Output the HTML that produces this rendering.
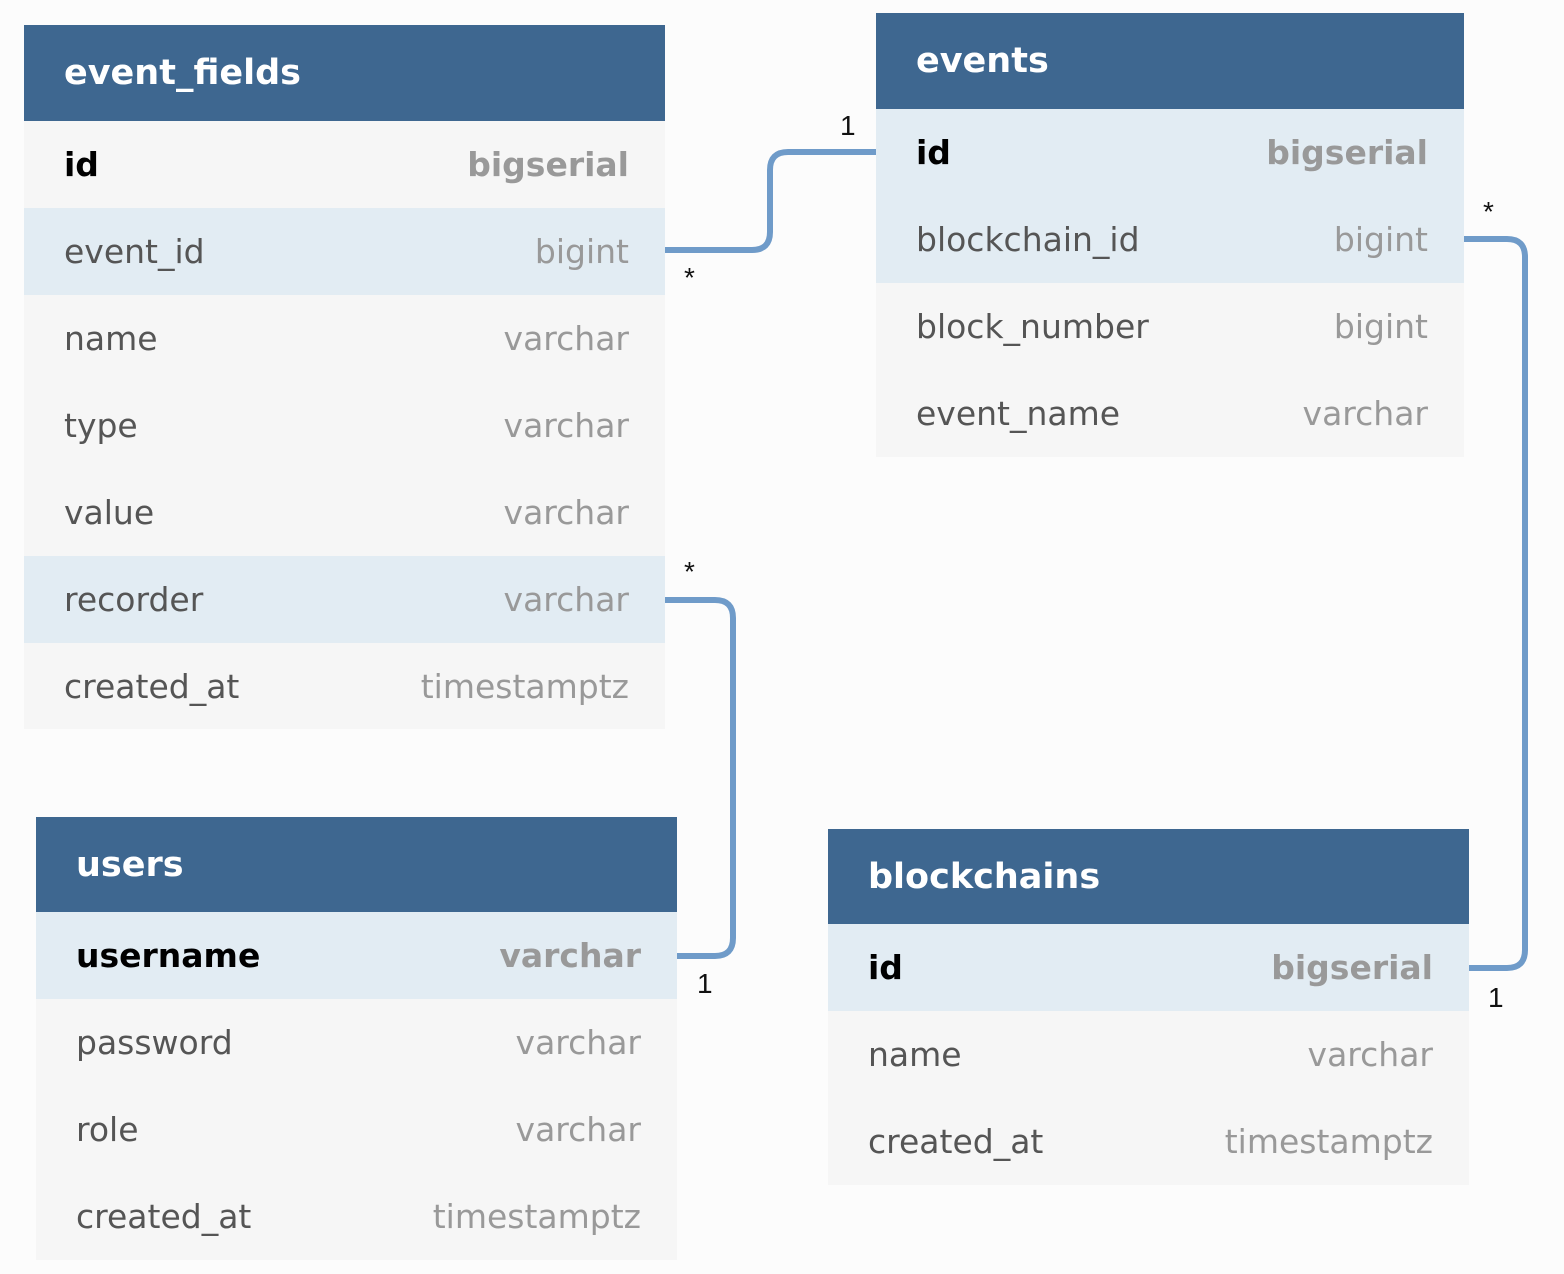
<!DOCTYPE html>
<html><head><style>
body{margin:0;width:1564px;height:1274px;background:#fcfcfc;position:relative;font-family:"DejaVu Sans",sans-serif;overflow:hidden}
.t{position:absolute}
.h{background:#3e6790;color:#fff;font-weight:bold;font-size:35px;box-sizing:border-box;padding-left:40px;display:flex;align-items:center}
.r{background:#f6f6f6;height:87px;display:flex;align-items:center;justify-content:space-between;padding:0 36px 0 40px;font-size:33px;color:#555}
.r.hl{background:#e2ecf3}
.r .ty{color:#999}
.r.pk .n{color:#000;font-weight:bold}
.r.pk .ty{font-weight:bold}
.lbl{position:absolute;font-size:28px;color:#111;font-family:"Liberation Sans",sans-serif}
</style></head><body>
<svg width="1564" height="1274" style="position:absolute;left:0;top:0">
<g fill="none" stroke="#6f9bc9" stroke-width="6">
<path d="M665 250 H752 Q770 250 770 232 V170 Q770 152 788 152 H876"/>
<path d="M665 600 H715 Q733 600 733 618 V938 Q733 956 715 956 H677"/>
<path d="M1464 239 H1507 Q1525 239 1525 257 V950 Q1525 968 1507 968 H1469"/>
</g></svg>
<div class="lbl" style="left:840px;top:110px">1</div>
<div class="lbl" style="left:684px;top:262px">*</div>
<div class="lbl" style="left:684px;top:556px">*</div>
<div class="lbl" style="left:697px;top:968px">1</div>
<div class="lbl" style="left:1483px;top:196px">*</div>
<div class="lbl" style="left:1488px;top:982px">1</div>

<div class="t" style="left:24px;top:25px;width:641px">
<div class="h" style="height:96px">event_fields</div>
<div class="r pk"><span class="n">id</span><span class="ty">bigserial</span></div>
<div class="r hl"><span>event_id</span><span class="ty">bigint</span></div>
<div class="r"><span>name</span><span class="ty">varchar</span></div>
<div class="r"><span>type</span><span class="ty">varchar</span></div>
<div class="r"><span>value</span><span class="ty">varchar</span></div>
<div class="r hl"><span>recorder</span><span class="ty">varchar</span></div>
<div class="r" style="height:86px"><span>created_at</span><span class="ty">timestamptz</span></div>
</div>

<div class="t" style="left:876px;top:13px;width:588px">
<div class="h" style="height:96px">events</div>
<div class="r pk hl"><span class="n">id</span><span class="ty">bigserial</span></div>
<div class="r hl"><span>blockchain_id</span><span class="ty">bigint</span></div>
<div class="r"><span>block_number</span><span class="ty">bigint</span></div>
<div class="r"><span>event_name</span><span class="ty">varchar</span></div>
</div>

<div class="t" style="left:36px;top:817px;width:641px">
<div class="h" style="height:95px">users</div>
<div class="r pk hl"><span class="n">username</span><span class="ty">varchar</span></div>
<div class="r"><span>password</span><span class="ty">varchar</span></div>
<div class="r"><span>role</span><span class="ty">varchar</span></div>
<div class="r"><span>created_at</span><span class="ty">timestamptz</span></div>
</div>

<div class="t" style="left:828px;top:829px;width:641px">
<div class="h" style="height:95px">blockchains</div>
<div class="r pk hl"><span class="n">id</span><span class="ty">bigserial</span></div>
<div class="r"><span>name</span><span class="ty">varchar</span></div>
<div class="r"><span>created_at</span><span class="ty">timestamptz</span></div>
</div>
</body></html>
